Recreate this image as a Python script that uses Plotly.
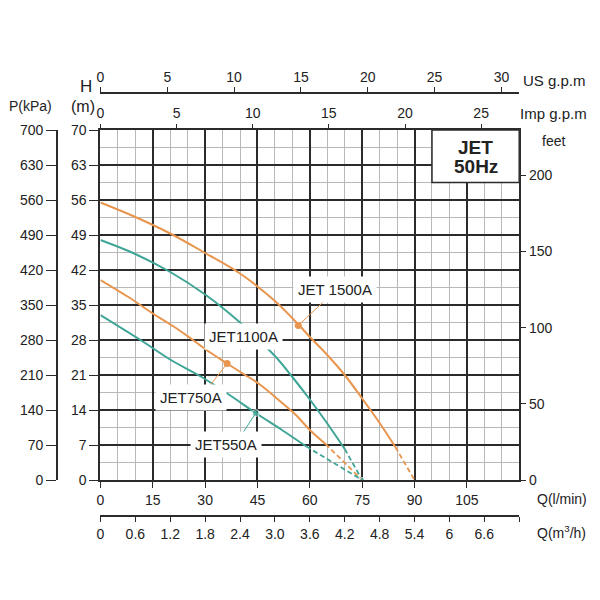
import plotly.graph_objects as go

# ---- data (Q in l/min, H in m) ----
jet1500_q = [0, 10, 20, 30, 40, 50, 57, 60, 65, 70, 75, 80, 84.5]
jet1500_h = [55.5, 52.6, 49.3, 45.4, 41.3, 35.8, 30.9, 28.6, 25.0, 21.0, 16.3, 11.4, 6.6]
jet1500_end = (90, 0)
jet1500_dot = (56.7, 30.9)

jet1100_q = [0, 10, 20, 30, 40, 50, 55, 60, 65, 70]
jet1100_h = [48, 45.2, 41.6, 37.1, 31.5, 24.8, 20.6, 16.1, 11.3, 6.2]
jet1100_end = (75, 0)

jet750_q = [0, 8, 15, 21, 26.5, 31, 36.3, 41, 45.5, 51.9, 56, 60, 64.5]
jet750_h = [40, 36.6, 33.3, 30.7, 28.0, 25.7, 23.3, 21.2, 19.2, 15.5, 13.0, 10.0, 7.2]
jet750_end = (75, 0)
jet750_dot = (36.3, 23.3)

jet550_q = [0, 11.5, 20.2, 29, 37, 44.5, 52, 59]
jet550_h = [33, 28, 24, 20.6, 17, 13.4, 10, 6.7]
jet550_end = (75, 0)
jet550_dot = (44.5, 13.4)

q_ticks = [0, 15, 30, 45, 60, 75, 90, 105]
h_ticks = [0, 7, 14, 21, 28, 35, 42, 49, 56, 63, 70]
p_ticks = [0, 70, 140, 210, 280, 350, 420, 490, 560, 630, 700]
feet_ticks = [0, 50, 100, 150, 200]
us_ticks = [0, 5, 10, 15, 20, 25, 30]
imp_ticks = [0, 5, 10, 15, 20, 25]
m3h_ticks = [0, 0.6, 1.2, 1.8, 2.4, 3.0, 3.6, 4.2, 4.8, 5.4, 6.0, 6.6, 7.2]
m3h_text = ["0", "0.6", "1.2", "1.8", "2.4", "3.0", "3.6", "4.2", "4.8", "5.4", "6", "6.6", ""]

ORANGE = "#E8954D"
TEAL = "#3FA597"
DARK = "#2b2b2b"
THIN = "#b8b8b8"
FONT = "Liberation Sans, Arial, sans-serif"

# page has an 8px body margin; paper spans page x 40..540, y 60..560
def px(x):
    return (x - 40) / 500

def py(y):
    return (560 - y) / 500

fig = go.Figure()

def add_pump(q, h, end, color):
    fig.add_trace(go.Scatter(x=q, y=h, mode="lines", line=dict(color=color, width=2, shape="spline"),
                             hoverinfo="skip"))
    fig.add_trace(go.Scatter(x=[q[-1], end[0]], y=[h[-1], end[1]], mode="lines",
                             line=dict(color=color, width=1.8, dash="5px,3px"), hoverinfo="skip"))

add_pump(jet1500_q, jet1500_h, jet1500_end, ORANGE)
add_pump(jet1100_q, jet1100_h, jet1100_end, TEAL)
add_pump(jet750_q, jet750_h, jet750_end, ORANGE)
add_pump(jet550_q, jet550_h, jet550_end, TEAL)

fig.add_trace(go.Scatter(x=[jet1500_dot[0], jet750_dot[0]], y=[jet1500_dot[1], jet750_dot[1]],
                         mode="markers", marker=dict(color=ORANGE, size=7), hoverinfo="skip"))
fig.add_trace(go.Scatter(x=[jet550_dot[0], jet550_end[0]], y=[jet550_dot[1], jet550_end[1]],
                         mode="markers", marker=dict(color=TEAL, size=[7, 5]), hoverinfo="skip"))

tickfont = dict(family=FONT, size=14, color="#222")

fig.update_layout(
    width=592, height=584,
    margin=dict(l=32, r=60, t=52, b=32),
    paper_bgcolor="white", plot_bgcolor="white",
    showlegend=False,
    font=dict(family=FONT, size=14, color="#222"),
    xaxis=dict(
        domain=[px(96), px(519)], range=[0, 120], tickmode="array", tickvals=q_ticks,
        showgrid=True, gridcolor=DARK, gridwidth=1.8,
        minor=dict(dtick=5, tick0=0, showgrid=True, gridcolor=THIN, gridwidth=1),
        showline=True, linecolor=DARK, linewidth=2, mirror=True,
        ticks="outside", ticklen=6, tickcolor=DARK, tickfont=tickfont, zeroline=False,
    ),
    yaxis=dict(
        domain=[py(480), py(130)], range=[0, 70], tickmode="array", tickvals=h_ticks,
        showgrid=True, gridcolor=DARK, gridwidth=1.8,
        minor=dict(dtick=3.5, tick0=0, showgrid=True, gridcolor=THIN, gridwidth=1),
        showline=True, linecolor=DARK, linewidth=2, mirror=True,
        ticks="outside", ticklen=9, tickcolor=DARK, tickfont=tickfont, zeroline=False,
    ),
    # feet on the right
    yaxis2=dict(
        overlaying="y", side="right", anchor="x", range=[0, 70 * 3.28084],
        tickvals=feet_ticks, showgrid=False, zeroline=False,
        ticks="outside", ticklen=6, tickcolor=DARK, tickfont=tickfont,
    ),
    # P(kPa) on the far left
    yaxis3=dict(
        overlaying="y", side="left", anchor="free", position=px(52), range=[0, 700],
        tickvals=p_ticks, showgrid=False, zeroline=False,
        showline=True, linecolor=DARK, linewidth=1.5,
        ticks="outside", ticklen=10, tickcolor=DARK, tickfont=tickfont,
    ),
    # Imp g.p.m on the plot top
    xaxis2=dict(
        overlaying="x", side="top", anchor="y", range=[0, 27.5],
        tickvals=imp_ticks, showgrid=False, zeroline=False,
        ticks="outside", ticklen=5, tickcolor=DARK, tickfont=tickfont,
    ),
    # US g.p.m above
    xaxis3=dict(
        overlaying="x", side="top", anchor="free", position=py(93), range=[0, 31.33],
        tickvals=us_ticks, showgrid=False, zeroline=False,
        showline=True, linecolor=DARK, linewidth=1.5,
        ticks="outside", ticklen=5, tickcolor=DARK, tickfont=tickfont,
    ),
    # m3/h below
    xaxis4=dict(
        overlaying="x", side="bottom", anchor="free", position=py(516), range=[0, 7.2],
        tickmode="array", tickvals=m3h_ticks, ticktext=m3h_text, showgrid=False, zeroline=False,
        showline=True, linecolor=DARK, linewidth=1.5,
        ticks="outside", ticklen=5, tickcolor=DARK, tickfont=tickfont,
    ),
)

# dummy traces so the extra axes render
fig.add_trace(go.Scatter(x=[None], y=[None], xaxis="x2", yaxis="y2", hoverinfo="skip"))
fig.add_trace(go.Scatter(x=[None], y=[None], xaxis="x3", yaxis="y3", hoverinfo="skip"))
fig.add_trace(go.Scatter(x=[None], y=[None], xaxis="x4", yaxis="y", hoverinfo="skip"))

# JET 50Hz box
fig.add_shape(type="rect", xref="x", yref="y", x0=95, x1=120, y0=59.5, y1=70,
              fillcolor="white", line=dict(color=DARK, width=1.5), layer="above")

ann = []
def txt(x, y, s, size=14, xanchor="center", bold=False):
    ann.append(dict(xref="paper", yref="paper", x=px(x), y=py(y), text=f"<b>{s}</b>" if bold else s,
                    showarrow=False, xanchor=xanchor, yanchor="middle",
                    font=dict(family=FONT, size=size, color="#222")))

txt(475, 147, "JET", 19, bold=True)
txt(475, 166, "50Hz", 19, bold=True)
txt(521, 80, "US g.p.m", 15, "left")
txt(518, 113, "Imp g.p.m", 15, "left")
txt(554, 141, "feet", 14)
txt(25, 106, "P(kPa)", 14)
txt(81, 86, "H", 17)
txt(78, 107, "(m)", 16)
txt(535, 499, "Q(l/min)", 14, "left")
txt(535, 532, "Q(m<sup>3</sup>/h)", 14, "left")

# leader lines
for dot, dx, dy, col in [(jet1500_dot, 36, -34, ORANGE), (jet750_dot, -28, 36, ORANGE),
                         (jet550_dot, -22, 34, TEAL)]:
    ann.append(dict(xref="x", yref="y", x=dot[0], y=dot[1], ax=dx, ay=dy, text="",
                    showarrow=True, arrowhead=0, arrowwidth=1, arrowcolor=col, standoff=0))

# pump labels
for x, y, s in [(375, 289, "JET 1500A"), (240, 336, "JET1100A"), (151, 411, "JET750A"), (186, 458, "JET550A")]:
    ann.append(dict(xref="paper", yref="paper", x=px(x), y=py(y), text=s, showarrow=False,
                    bgcolor="white", borderpad=4, font=dict(family=FONT, size=15, color="#222")))

fig.update_layout(annotations=ann)

fig.write_html("out.html")
